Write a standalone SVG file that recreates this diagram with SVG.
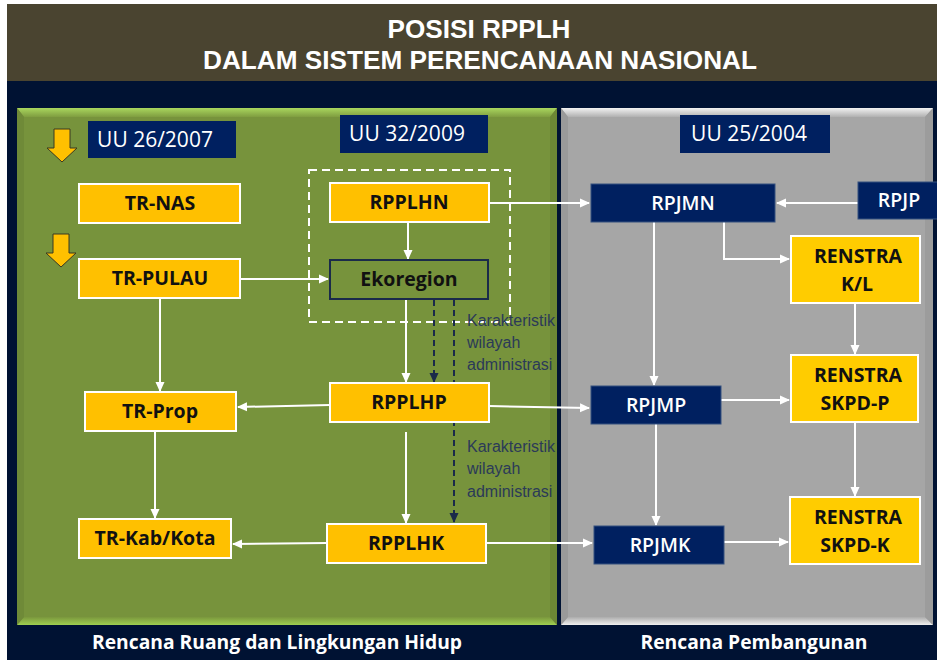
<svg xmlns="http://www.w3.org/2000/svg" width="937" height="660" viewBox="0 0 937 660">
  <defs>
    <marker id="ah" viewBox="0 0 10 10" refX="9" refY="5" markerWidth="10" markerHeight="10" markerUnits="userSpaceOnUse" orient="auto">
      <path d="M0,0.5 L10,5 L0,9.5 Z" fill="#ffffff"/>
    </marker>
    <marker id="ahd" viewBox="0 0 10 10" refX="9" refY="5" markerWidth="10" markerHeight="10" markerUnits="userSpaceOnUse" orient="auto">
      <path d="M0,0.5 L10,5 L0,9.5 Z" fill="#1a2a4a"/>
    </marker>
    <linearGradient id="gTop" x1="0" y1="0" x2="0" y2="1">
      <stop offset="0" stop-color="#a9d65e"/>
      <stop offset="1" stop-color="#7f9d40"/>
    </linearGradient>
    <linearGradient id="gBot" x1="0" y1="0" x2="0" y2="1">
      <stop offset="0" stop-color="#7a973d"/>
      <stop offset="1" stop-color="#9fcf50"/>
    </linearGradient>
    <linearGradient id="yTop" x1="0" y1="0" x2="0" y2="1">
      <stop offset="0" stop-color="#f2f2f2"/>
      <stop offset="1" stop-color="#b0b0b0"/>
    </linearGradient>
    <linearGradient id="yBot" x1="0" y1="0" x2="0" y2="1">
      <stop offset="0" stop-color="#acacac"/>
      <stop offset="1" stop-color="#f0f0f0"/>
    </linearGradient>
    <style>
      .ttl { font-family: "Liberation Sans", Arial, sans-serif; font-weight: bold; font-size: 25px; fill: #ffffff; text-anchor: middle; }
      .foot { font-family: "Open Sans", "Liberation Sans", sans-serif; font-weight: bold; font-size: 19px; fill: #ffffff; text-anchor: middle; }
      .law rect { fill: #002060; }
      .law text { font-family: "Open Sans", "Liberation Sans", sans-serif; font-size: 21px; fill: #ffffff; text-anchor: middle; }
      .yl rect { fill: #ffc000; stroke: #ffffff; stroke-width: 2; }
      .yr rect { fill: #ffcc00; stroke: #ffffff; stroke-width: 2; }
      .yl text, .yr text { font-family: "Open Sans", "Liberation Sans", sans-serif; font-weight: bold; font-size: 19.5px; fill: #111111; text-anchor: middle; }
      .nv rect { fill: #002060; stroke: #35507f; stroke-width: 1; }
      .nv text { font-family: "Open Sans", "Liberation Sans", sans-serif; font-weight: 600; font-size: 19.5px; fill: #ffffff; text-anchor: middle; }
      .eko rect { fill: #77933c; stroke: #1a2a4a; stroke-width: 2; }
      .eko text { font-family: "Open Sans", "Liberation Sans", sans-serif; font-weight: bold; font-size: 19.5px; fill: #111111; text-anchor: middle; }
      .note { font-family: "Liberation Sans", Arial, sans-serif; font-size: 16px; fill: #2b3a58; }
      .c { fill: none; stroke: #ffffff; stroke-width: 2; }
      .ca { marker-end: url(#ah); }
      .d { fill: none; stroke: #1a2a4a; stroke-width: 2; stroke-dasharray: 6 4; marker-end: url(#ahd); }
      .darr { fill: #ffc000; stroke: #3b3820; stroke-width: 1; }
    </style>
  </defs>

  <!-- page background -->
  <rect x="0" y="0" width="937" height="660" fill="#ffffff"/>
  <rect x="7" y="4" width="930" height="77" fill="#4a4430"/>
  <rect x="7" y="81" width="930" height="579" fill="#001233"/>

  <!-- title -->
  <text class="ttl" x="479" y="38" textLength="183" lengthAdjust="spacingAndGlyphs">POSISI RPPLH</text>
  <text class="ttl" x="480" y="69" textLength="554" lengthAdjust="spacingAndGlyphs">DALAM SISTEM PERENCANAAN NASIONAL</text>

  <!-- green panel: spatial and environmental planning -->
  <g id="panel-green">
    <rect x="17" y="108" width="540" height="517" fill="#77933c"/>
    <polygon points="17,108 557,108 550,117 24,117" fill="url(#gTop)"/>
    <polygon points="17,625 557,625 550,617 24,617" fill="url(#gBot)"/>
    <polygon points="17,108 24,117 24,617 17,625" fill="#6f8a38"/>
    <polygon points="557,108 550,117 550,617 557,625" fill="#6c8735"/>
  </g>

  <!-- grey panel: development planning -->
  <g id="panel-grey">
    <rect x="561" y="108" width="372" height="517" fill="#a6a6a6"/>
    <polygon points="561,108 933,108 925,117 568,117" fill="url(#yTop)"/>
    <polygon points="561,625 933,625 925,617 568,617" fill="url(#yBot)"/>
    <polygon points="561,108 568,117 568,617 561,625" fill="#9a9a9a"/>
    <polygon points="933,108 925,117 925,617 933,625" fill="#9c9c9c"/>
  </g>

  <!-- footer captions -->
  <text class="foot" x="277" y="649" textLength="370" lengthAdjust="spacingAndGlyphs">Rencana Ruang dan Lingkungan Hidup</text>
  <text class="foot" x="754" y="649" textLength="227" lengthAdjust="spacingAndGlyphs">Rencana Pembangunan</text>

  <!-- law labels -->
  <g id="uu26" class="law"><rect x="88" y="121" width="148" height="37"/><text x="155" y="147">UU 26/2007</text></g>
  <g id="uu32" class="law"><rect x="340" y="115" width="148" height="38"/><text x="407" y="141">UU 32/2009</text></g>
  <g id="uu25" class="law"><rect x="680" y="115" width="150" height="38"/><text x="749" y="141">UU 25/2004</text></g>

  <!-- yellow block arrows -->
  <g id="arrow-1"><path class="darr" d="M54,129 H70 V148 H77 L62,162 L47,148 H54 Z"/></g>
  <g id="arrow-2"><path class="darr" d="M53,234 H69 V253 H76 L61,267 L46,253 H53 Z"/></g>

  <!-- ecoregion grouping frame -->
  <rect id="eco-frame" x="309" y="170" width="201" height="152" fill="none" stroke="#ffffff" stroke-width="2" stroke-dasharray="8 5"/>

  <!-- connectors -->
  <g id="connectors">
    <path class="c ca" d="M160,298 V391"/>
    <path class="c ca" d="M155,431 V518"/>
    <path class="c ca" d="M240,279 H328"/>
    <path class="c ca" d="M408,222 V259"/>
    <path class="c ca" d="M406,299 V382"/>
    <path class="c ca" d="M406,432 V523"/>
    <path class="c ca" d="M330,405 L238,407"/>
    <path class="c ca" d="M327,543 L233,544"/>
    <path class="c ca" d="M489,203 H589"/>
    <path class="c ca" d="M489,406 L589,408"/>
    <path class="c ca" d="M486,543 H592"/>
    <path class="c ca" d="M858,203 H777"/>
    <path class="c ca" d="M724,222 V259 H789"/>
    <path class="c ca" d="M654,222 V385"/>
    <path class="c ca" d="M656,424 V525"/>
    <path class="c ca" d="M721,400 H789"/>
    <path class="c ca" d="M724,542 H788"/>
    <path class="c ca" d="M855,303 V354"/>
    <path class="c ca" d="M855,422 V496"/>
    <path class="d" d="M434,300 V382"/>
    <path class="d" d="M454,300 V522"/>
  </g>

  <!-- annotations on the dashed links -->
  <g id="note-1">
    <text class="note" x="467" y="326">Karakteristik</text>
    <text class="note" x="467" y="348">wilayah</text>
    <text class="note" x="467" y="370">administrasi</text>
  </g>
  <g id="note-2">
    <text class="note" x="467" y="452">Karakteristik</text>
    <text class="note" x="467" y="474">wilayah</text>
    <text class="note" x="467" y="497">administrasi</text>
  </g>

  <!-- spatial plan nodes -->
  <g id="tr-nas" class="yl"><rect x="79" y="184" width="161" height="39"/><text x="160" y="210">TR-NAS</text></g>
  <g id="tr-pulau" class="yl"><rect x="79" y="259" width="161" height="39"/><text x="160" y="285">TR-PULAU</text></g>
  <g id="tr-prop" class="yl"><rect x="85" y="392" width="151" height="39"/><text x="160" y="418">TR-Prop</text></g>
  <g id="tr-kab" class="yl"><rect x="79" y="519" width="152" height="39"/><text x="155" y="545">TR-Kab/Kota</text></g>

  <!-- environmental plan nodes -->
  <g id="rpplhn" class="yl"><rect x="330" y="183" width="159" height="39"/><text x="409" y="209">RPPLHN</text></g>
  <g id="ekoregion" class="eko"><rect x="330" y="260" width="158" height="39"/><text x="409" y="286">Ekoregion</text></g>
  <g id="rpplhp" class="yl"><rect x="330" y="383" width="159" height="39"/><text x="409" y="409">RPPLHP</text></g>
  <g id="rpplhk" class="yl"><rect x="327" y="524" width="159" height="39"/><text x="406" y="550">RPPLHK</text></g>

  <!-- development plan nodes -->
  <g id="rpjmn" class="nv"><rect x="591" y="184" width="184" height="38"/><text x="683" y="210">RPJMN</text></g>
  <g id="rpjp" class="nv"><rect x="858" y="182" width="82" height="37"/><text x="899" y="207">RPJP</text></g>
  <g id="rpjmp" class="nv"><rect x="591" y="386" width="130" height="38"/><text x="656" y="412">RPJMP</text></g>
  <g id="rpjmk" class="nv"><rect x="594" y="526" width="130" height="38"/><text x="660" y="552">RPJMK</text></g>

  <!-- strategic plan nodes -->
  <g id="renstra-kl" class="yr"><rect x="791" y="236" width="129" height="67"/><text x="858" y="263">RENSTRA</text><text x="857" y="291">K/L</text></g>
  <g id="renstra-p" class="yr"><rect x="791" y="355" width="127" height="67"/><text x="858" y="382">RENSTRA</text><text x="855" y="410">SKPD-P</text></g>
  <g id="renstra-k" class="yr"><rect x="790" y="497" width="130" height="67"/><text x="858" y="524">RENSTRA</text><text x="855" y="552">SKPD-K</text></g>
</svg>
